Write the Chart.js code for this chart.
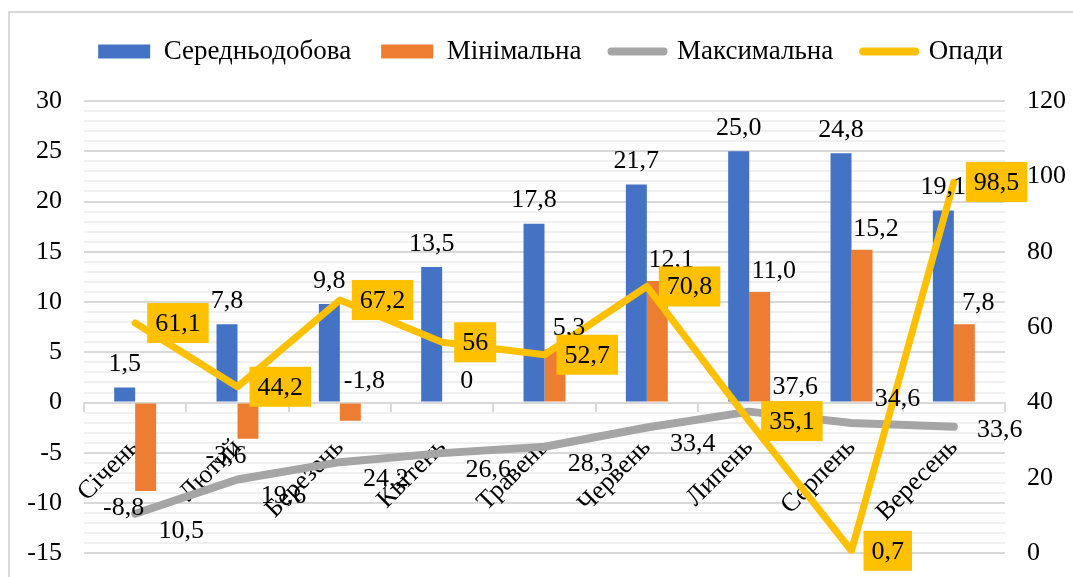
<!DOCTYPE html>
<html lang="uk">
<head>
  <meta charset="UTF-8" />
  <title>Температура та опади</title>
  <script src="https://cdn.jsdelivr.net/npm/chart.js"></script>
  <style>
    html, body { margin: 0; padding: 0; background: #fff; overflow: hidden; }
    #frame { position: absolute; left: 8px; top: 11px; width: 1080px; height: 580px; border: 2px solid #d9d9d9; }
    #wrap { position: absolute; left: 0; top: 0; width: 1073px; height: 577px; overflow: hidden; }
  </style>
</head>
<body>
  <div id="frame"></div>
  <!-- canvas is a bit taller than the window: the axis reserves space below the plot -->
  <div id="wrap"><canvas id="climateChart" width="1073" height="591"></canvas></div>

  <script>
    // chart data
    const months = ['Січень', 'Лютий', 'Березень', 'Квітень', 'Травень', 'Червень', 'Липень', 'Серпень', 'Вересень'];
    const avgTemp = [1.5, 7.8, 9.8, 13.5, 17.8, 21.7, 25.0, 24.8, 19.1];
    const minTemp = [-8.8, -3.6, -1.8, 0, 5.3, 12.1, 11.0, 15.2, 7.8];
    const maxTemp = [10.5, 19.6, 24.2, 26.6, 28.3, 33.4, 37.6, 34.6, 33.6];
    const rainfall = [61.1, 44.2, 67.2, 56, 52.7, 70.8, 35.1, 0.7, 98.5];
    const tempAxis = { min: -15, max: 30, step: 5 };
    const rainAxis = { min: 0, max: 120, step: 20 };

    const BLUE = '#4472C4', ORANGE = '#ED7D31', GREY = '#A5A5A5', YELLOW = '#FFC000';
    const FONT = "'Liberation Serif', 'Times New Roman', serif";

    Chart.defaults.font.family = FONT;
    Chart.defaults.font.size = 26;
    Chart.defaults.color = '#000';

    const fmtTemp = v => v === 0 ? '0' : v.toFixed(1).replace('.', ',');
    const fmtRain = v => String(v).replace('.', ',');

    // draws the value labels (Excel-like data labels)
    const valueLabels = {
      id: 'valueLabels',
      afterDatasetsDraw(chart) {
        const ctx = chart.ctx;
        const zeroY = chart.scales.y.getPixelForValue(0);
        ctx.save();
        ctx.font = '26px ' + FONT;
        ctx.fillStyle = '#000';

        chart.getDatasetMeta(0).data.forEach((bar, i) => {
          ctx.textAlign = 'center';
          ctx.textBaseline = 'bottom';
          ctx.fillText(fmtTemp(avgTemp[i]), bar.x, Math.min(bar.y, zeroY) - 10);
        });

        chart.getDatasetMeta(1).data.forEach((bar, i) => {
          const v = minTemp[i];
          ctx.textAlign = 'center';
          if (v >= 0 || Math.abs(bar.y - zeroY) < 25) {
            ctx.textBaseline = 'bottom';
            ctx.fillText(fmtTemp(v), bar.x + 14, Math.min(bar.y, zeroY) - 8);
          } else {
            ctx.textBaseline = 'top';
            ctx.fillText(fmtTemp(v), bar.x - 22, bar.y + 4);
          }
        });

        chart.getDatasetMeta(2).data.forEach((pt, i) => {
          const next = maxTemp[i + 1];
          let dy = 17;
          if (next === undefined) dy = 3;
          else if (next < maxTemp[i]) dy = -24;
          ctx.textAlign = 'center';
          ctx.textBaseline = 'middle';
          ctx.fillText(fmtTemp(maxTemp[i]), pt.x + 46, pt.y + dy);
        });

        chart.getDatasetMeta(3).data.forEach((pt, i) => {
          const txt = fmtRain(rainfall[i]);
          const w = ctx.measureText(txt).width + 16;
          const h = 40;
          const bx = pt.x + 12;
          ctx.fillStyle = YELLOW;
          ctx.fillRect(bx, pt.y - h / 2, w, h);
          ctx.fillStyle = '#000';
          ctx.textAlign = 'center';
          ctx.textBaseline = 'middle';
          ctx.fillText(txt, bx + w / 2, pt.y + 1);
        });
        ctx.restore();
      }
    };

    const ctx = document.getElementById('climateChart').getContext('2d');
    new Chart(ctx, {
      data: {
        labels: months,
        datasets: [
          { type: 'bar', label: 'Середньодобова', data: avgTemp, backgroundColor: BLUE, yAxisID: 'y', order: 3,
            categoryPercentage: 0.41, barPercentage: 1 },
          { type: 'bar', label: 'Мінімальна', data: minTemp, backgroundColor: ORANGE, yAxisID: 'y', order: 3,
            categoryPercentage: 0.41, barPercentage: 1 },
          { type: 'line', label: 'Максимальна', data: maxTemp, borderColor: GREY, backgroundColor: GREY, borderWidth: 8,
            pointRadius: 0, borderCapStyle: 'round', borderJoinStyle: 'round', yAxisID: 'y1', order: 2 },
          { type: 'line', label: 'Опади', data: rainfall, borderColor: YELLOW, backgroundColor: YELLOW, borderWidth: 7,
            pointRadius: 0, borderCapStyle: 'round', borderJoinStyle: 'round', yAxisID: 'y1', order: 1 }
        ]
      },
      options: {
        responsive: false,
        animation: false,
        layout: { padding: { top: 8, bottom: 11, left: 28, right: 0 } },
        plugins: {
          tooltip: { enabled: false },
          // empty subtitle used as a spacer between legend and plot
          subtitle: { display: true, text: ' ', weight: 500, font: { size: 10 }, padding: { top: 0, bottom: 14 } },
          legend: {
            position: 'top',
            labels: {
              usePointStyle: true,
              pointStyleWidth: 52,
              boxHeight: 14,
              padding: 30,
              color: '#000',
              font: { size: 27 },
              sort: (a, b) => a.datasetIndex - b.datasetIndex,
              generateLabels(chart) {
                const items = Chart.defaults.plugins.legend.labels.generateLabels(chart);
                items.forEach(it => {
                  const ds = chart.data.datasets[it.datasetIndex];
                  if (ds.type === 'line') {
                    it.pointStyle = 'line';
                    it.lineWidth = 8;
                    it.strokeStyle = ds.borderColor;
                    it.lineCap = 'round';
                  } else {
                    it.pointStyle = 'rect';
                    it.lineWidth = 0;
                  }
                });
                return items;
              }
            }
          }
        },
        scales: {
          x: {
            position: { y: 0 },
            offset: true,
            grid: { display: true, drawOnChartArea: false, drawTicks: true, tickLength: 8, color: '#d9d9d9', lineWidth: 2, offset: true },
            border: { display: true, color: '#d9d9d9', width: 2 },
            ticks: { minRotation: 45, maxRotation: 45, autoSkip: false, padding: 22, color: '#000', font: { size: 26 } }
          },
          y: {
            position: 'left',
            min: tempAxis.min,
            max: tempAxis.max,
            border: { display: false },
            grid: {
              drawTicks: false,
              lineWidth: 2,
              color: c => c.tick.value % tempAxis.step === 0 ? '#d9d9d9' : '#f0f0f0'
            },
            ticks: {
              stepSize: 1,
              autoSkip: false,
              padding: 22,
              color: '#000',
              callback: v => v % tempAxis.step === 0 ? v : ''
            },
            afterFit(s) { s.width = 56; }
          },
          y1: {
            position: 'right',
            min: rainAxis.min,
            max: rainAxis.max,
            border: { display: false },
            grid: { drawOnChartArea: false, drawTicks: false },
            ticks: { stepSize: rainAxis.step, padding: 22, color: '#000' },
            afterFit(s) { s.width = 68; }
          }
        }
      },
      plugins: [valueLabels]
    });
  </script>
</body>
</html>
